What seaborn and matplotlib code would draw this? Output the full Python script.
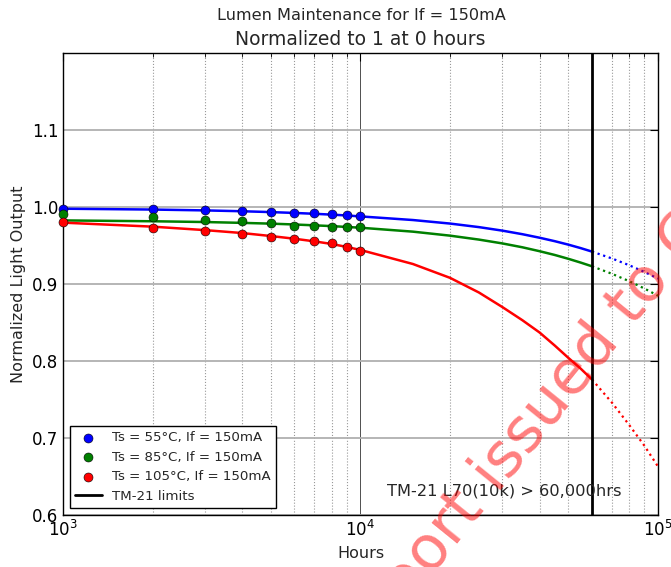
import matplotlib
matplotlib.use("Agg")
import matplotlib.pyplot as plt
import seaborn as sns
import numpy as np
from matplotlib.ticker import LogLocator, NullFormatter, FixedLocator

# ---- data ----
hours = [1000, 2000, 3000, 4000, 5000, 6000, 7000, 8000, 9000, 10000]
ts55 = [0.998, 0.997, 0.9956, 0.9948, 0.9935, 0.992, 0.9917, 0.9913, 0.990, 0.988]
ts85 = [0.9909, 0.9865, 0.983, 0.982, 0.9787, 0.9757, 0.9748, 0.9744, 0.9735, 0.9735]
ts105 = [0.980, 0.9722, 0.9683, 0.9644, 0.9614, 0.9584, 0.9558, 0.9532, 0.9484, 0.9423]

fit_hours = [1000, 2000, 3000, 4000, 5000, 6000, 7000, 8000, 9000, 10000, 15000,
             20000, 25000, 30000, 35000, 40000, 45000, 50000, 55000, 60000]
fit55 = [0.9978, 0.9967, 0.9956, 0.9945, 0.9934, 0.9923, 0.9912, 0.9901, 0.9890,
         0.9878, 0.9831, 0.9785, 0.9739, 0.9693, 0.9647, 0.9601, 0.9556, 0.9511,
         0.9466, 0.9421]
fit85 = [0.9826, 0.9815, 0.9805, 0.9794, 0.9784, 0.9773, 0.9762, 0.9752, 0.9741,
         0.9731, 0.9680, 0.9628, 0.9577, 0.9527, 0.9477, 0.9426, 0.9377, 0.9327,
         0.9278, 0.9230]
fit105 = [0.9797, 0.9745, 0.9700, 0.9662, 0.9623, 0.9588, 0.9554, 0.9520, 0.9481,
          0.9442, 0.9260, 0.9080, 0.8890, 0.8700, 0.8530, 0.8370, 0.8200, 0.8040,
          0.7900, 0.7760]

proj_hours = [60000, 70000, 80000, 90000, 100000]
proj55 = [0.9421, 0.9332, 0.9244, 0.9157, 0.9070]
proj85 = [0.9230, 0.9133, 0.9037, 0.8942, 0.8848]
proj105 = [0.7760, 0.7460, 0.7170, 0.6900, 0.6630]

tm21_limit = 60000
labels = ["Ts = 55°C, If = 150mA", "Ts = 85°C, If = 150mA", "Ts = 105°C, If = 150mA"]
colors = ["#0000ff", "#008000", "#ff0000"]
yticks = [0.6, 0.7, 0.8, 0.9, 1.0, 1.1]

sns.set_style("white")
plt.rcParams["font.family"] = ["DejaVu Sans"]
plt.rcParams["mathtext.fontset"] = "dejavusans"

fig = plt.figure(figsize=(6.71, 5.67), dpi=100)
ax = fig.add_axes([0.0939, 0.0917, 0.8867, 0.8148])
ax.set_xscale("log")

series = [(ts55, fit55, proj55), (ts85, fit85, proj85), (ts105, fit105, proj105)]
for (pts, fit, proj), lab, c in zip(series, labels, colors):
    sns.lineplot(x=fit_hours, y=fit, ax=ax, color=c, lw=1.8, zorder=3)
    sns.lineplot(x=proj_hours, y=proj, ax=ax, color=c, lw=1.6, ls=":", zorder=3)

for (pts, fit, proj), lab, c in zip(series, labels, colors):
    sns.scatterplot(x=hours, y=pts, ax=ax, color=c, s=42, edgecolor="k",
                    linewidth=0.4, label=lab, zorder=4, clip_on=False)

ax.axvline(tm21_limit, color="k", lw=2.0, label="TM-21 limits", zorder=5)

ax.set_xlim(1000, 100000)
ax.set_ylim(0.6, 1.2)
ax.yaxis.set_major_locator(FixedLocator(yticks))
ax.xaxis.set_major_locator(LogLocator(base=10))
ax.xaxis.set_minor_locator(LogLocator(base=10, subs=np.arange(2, 10)))
ax.xaxis.set_minor_formatter(NullFormatter())

ax.grid(False)
ax.grid(which="major", axis="y", color="#b0b0b0", ls="-", lw=1.3, zorder=0)
ax.grid(which="major", axis="x", color="#333333", ls="-", lw=0.6, zorder=0)
ax.grid(which="minor", axis="x", color="#999999", ls=":", lw=0.8, zorder=0)
ax.set_axisbelow(True)

for sp in ax.spines.values():
    sp.set_visible(True)
    sp.set_color("k")
    sp.set_linewidth(1.0)

ax.tick_params(which="both", direction="in", top=True, right=True,
               labelsize=12, colors="k")
ax.tick_params(which="major", length=6)
ax.tick_params(which="minor", length=3)

ax.set_xlabel("Hours", fontsize=11.5)
ax.set_ylabel("Normalized Light Output", fontsize=11.5)
ax.set_title("Normalized to 1 at 0 hours", fontsize=13.5, pad=6)
fig.text(0.5385, 0.972, "Lumen Maintenance for If = 150mA", ha="center",
         va="center", fontsize=11.6)

ax.text(12300, 0.631, "TM-21 L70(10k) > 60,000hrs", fontsize=11.7, va="center",
        ha="left", zorder=6)

leg = ax.legend(loc="lower left", fontsize=9.6, scatterpoints=1, fancybox=False,
                framealpha=1, edgecolor="k", borderaxespad=0.5)
leg.get_frame().set_linewidth(1.0)

fig.text(0.534, -0.176, "Report issued to C", rotation=51,
         rotation_mode="anchor", ha="left", va="baseline", fontsize=44,
         color="red", alpha=0.5, zorder=10)

fig.savefig("out.png", dpi=100)
